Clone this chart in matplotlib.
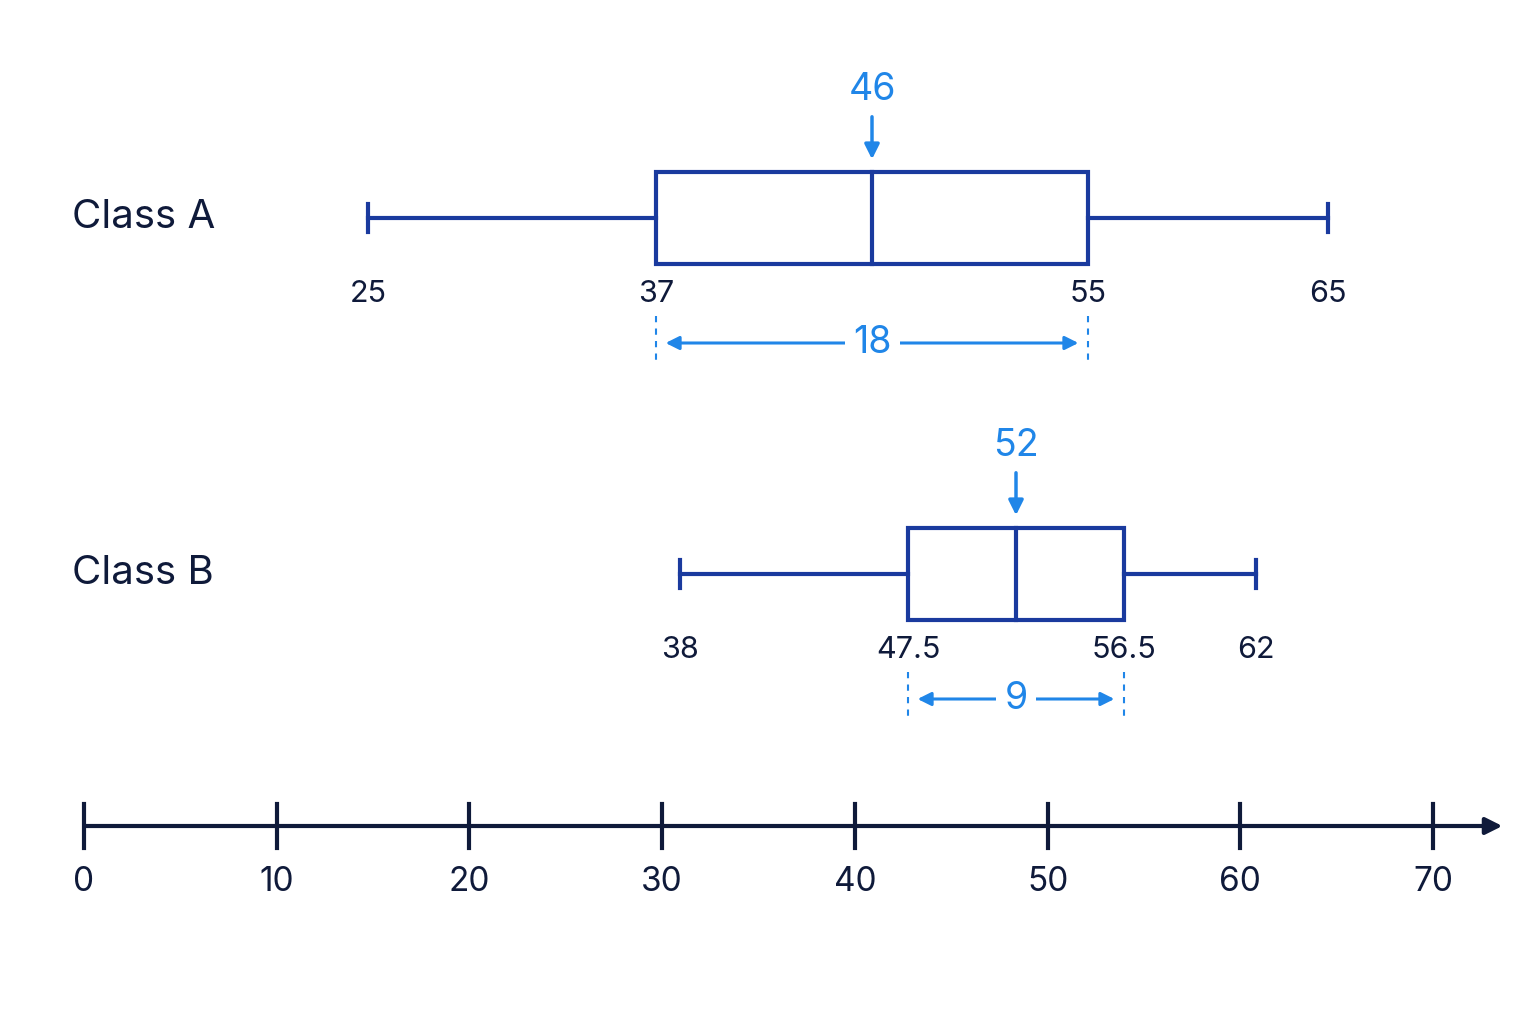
import matplotlib
matplotlib.use("Agg")
import matplotlib.pyplot as plt

plt.rcParams['font.family'] = ['Inter', 'DejaVu Sans']

classes = ["Class A", "Class B"]
mins = [25, 38]
q1s = [37, 47.5]
medians = [46, 52]
q3s = [55, 56.5]
maxs = [65, 62]
axis_ticks = [0, 10, 20, 30, 40, 50, 60, 70]

BOX = "#1a3a9e"
TXT = "#0f1a3a"
ACC = "#2086e8"

fig = plt.figure(figsize=(15.36, 10.24), dpi=100)
fig.patch.set_facecolor("white")
ax = fig.add_axes([0, 0, 1, 1])
ax.set_xlim(25 - 368 / 24, 25 + (1536 - 368) / 24)
ax.set_ylim(1024, 0)
ax.axis("off")

rows_y = [218, 574]
half_h = 46
for i, c in enumerate(classes):
    y = rows_y[i]
    ax.text(72 / 1536, 1 - y / 1024, c, transform=ax.transAxes,
            fontsize=29, color=TXT, va="center", ha="left")
    ax.plot([mins[i], q1s[i]], [y, y], color=BOX, lw=3)
    ax.plot([q3s[i], maxs[i]], [y, y], color=BOX, lw=3)
    for v in (mins[i], maxs[i]):
        ax.plot([v, v], [y - 14, y + 14], color=BOX, lw=3)
    ax.add_patch(plt.Rectangle((q1s[i], y - half_h), q3s[i] - q1s[i], 2 * half_h,
                               fill=False, edgecolor=BOX, lw=3))
    ax.plot([medians[i], medians[i]], [y - half_h, y + half_h], color=BOX, lw=3)
    for v in (mins[i], q1s[i], q3s[i], maxs[i]):
        ax.text(v, y + 76, f"{v:g}", fontsize=22, color=TXT, ha="center", va="center")
    ax.text(medians[i], y - 128, f"{medians[i]:g}", fontsize=27, color=ACC, ha="center", va="center")
    ax.annotate("", xy=(medians[i], y - 56), xytext=(medians[i], y - 104),
                arrowprops=dict(arrowstyle="-|>", color=ACC, lw=2.5, mutation_scale=22))
    yi = y + 125
    for v in (q1s[i], q3s[i]):
        ax.plot([v, v], [yi - 27, yi + 22], color=ACC, lw=1.5, ls=(0, (3, 3)))
    iqr = q3s[i] - q1s[i]
    mid = (q1s[i] + q3s[i]) / 2
    ax.annotate("", xy=(q1s[i] + 0.4, yi), xytext=(q3s[i] - 0.4, yi),
                arrowprops=dict(arrowstyle="<|-|>", color=ACC, lw=2.2, mutation_scale=20,
                                shrinkA=0, shrinkB=0))
    ax.text(mid, yi, f"{iqr:g}", fontsize=27, color=ACC, ha="center", va="center",
            bbox=dict(facecolor="white", edgecolor="none", pad=6), zorder=5)

ax2 = fig.add_axes([0, 0, 1, 1])
ax2.patch.set_alpha(0)
scale = (1433 - 84) / 70
ax2.set_xlim(-84 / scale, -84 / scale + 1536 / scale)
ax2.set_ylim(1024, 0)
ax2.axis("off")
yl = 826
ax2.annotate("", xy=(axis_ticks[-1] + 3.6, yl), xytext=(axis_ticks[0], yl),
             arrowprops=dict(arrowstyle="-|>", color=TXT, lw=3, mutation_scale=25,
                             shrinkA=0, shrinkB=0))
for t in axis_ticks:
    ax2.plot([t, t], [yl - 22, yl + 22], color=TXT, lw=3)
    ax2.text(t, yl + 56, str(t), fontsize=24, color=TXT, ha="center", va="center")

fig.savefig("out.png", dpi=100, facecolor="white")
